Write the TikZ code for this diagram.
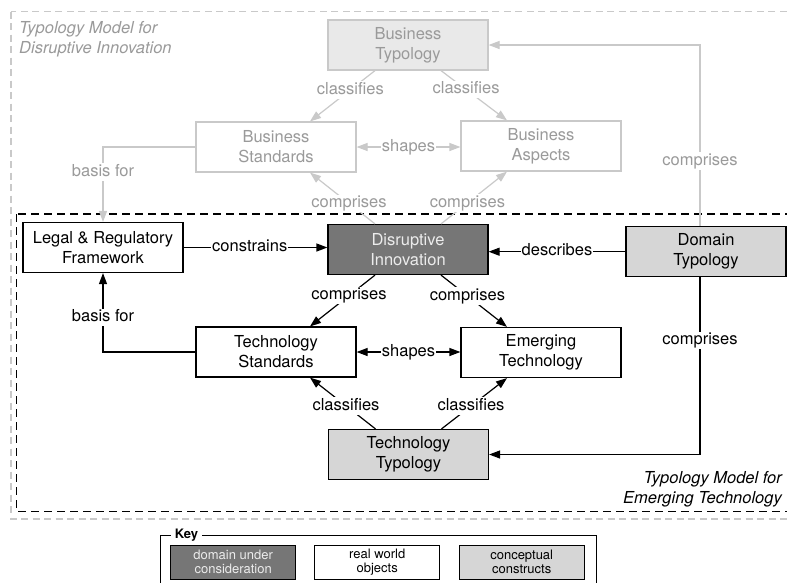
\documentclass[tikz,border=0pt]{standalone}
\usepackage{fontspec}
\setmainfont{TeX Gyre Heros}
\usetikzlibrary{arrows.meta}

\definecolor{ghostline}{HTML}{C9C9C9}
\definecolor{ghosttext}{HTML}{9A9A9A}
\definecolor{ghostfill}{HTML}{E9E9E9}
\definecolor{conceptfill}{HTML}{D6D6D6}
\definecolor{domainfill}{HTML}{767676}
\definecolor{domaintext}{HTML}{ECECEC}

\tikzset{
  mainfont/.style={font=\fontsize{16.5}{20}\selectfont},
  keyfont/.style={font=\fontsize{13}{14.5}\selectfont},
  box/.style={mainfont, draw=black, line width=1.2pt, minimum width=160pt,
    minimum height=50pt, align=center, inner sep=0pt, fill=white},
  realbox/.style={box},
  conceptbox/.style={box, fill=conceptfill},
  domainbox/.style={box, fill=domainfill, text=domaintext},
  ghostbox/.style={box, draw=ghostline, text=ghosttext},
  ghostconcept/.style={ghostbox, fill=ghostfill},
  link/.style={line width=1.2pt, >={Triangle[length=11pt,width=8pt]}, ->},
  ghostlink/.style={link, draw=ghostline},
  both/.style={<->},
  lbl/.style={mainfont, fill=white, inner sep=1pt, text height=12pt, text depth=3.5pt},
  ghostlbl/.style={lbl, text=ghosttext},
  frametitle/.style={font=\fontsize{16.5}{20}\selectfont\itshape, inner sep=0pt},
  keybox/.style={keyfont, draw=black, line width=1pt, minimum width=125pt,
    minimum height=34pt, align=center, inner sep=0pt, fill=white},
}

\begin{document}
\begin{tikzpicture}[x=1pt,y=-1pt]
\clip (0,0) rectangle (787,582);
\fill[white] (0,0) rectangle (787,582);

% model frames
\draw[ghostline, line width=1.2pt, dash pattern=on 7pt off 4.5pt] (11,11.7) rectangle (800,519);
\draw[black, line width=1.3pt, dash pattern=on 8pt off 5pt] (16.7,214) rectangle (796,511.7);

% frame titles (base anchor sits on the last line)
\node[frametitle, text=ghosttext, anchor=base west, align=left] (titleDI) at (19,53)
  {Typology Model for\\Disruptive Innovation};
\node[frametitle, anchor=base east, align=right] (titleET) at (782,503)
  {Typology Model for\\Emerging Technology};

% business layer
\node[ghostconcept] (BT) at (408,45) {Business\\Typology};
\node[ghostbox] (BS) at (276,147) {Business\\Standards};
\node[ghostbox] (BA) at (541,146) {Business\\Aspects};

% technology layer
\node[realbox] (LR) at (103,247.5) {Legal \& Regulatory\\Framework};
\node[domainbox] (DI) at (408,249.5) {Disruptive\\Innovation};
\node[conceptbox] (DT) at (706,251.7) {Domain\\Typology};
\node[realbox] (TS) at (276,352) {Technology\\Standards};
\node[realbox] (ET) at (541,352.5) {Emerging\\Technology};
\node[conceptbox] (TT) at (408.5,454.5) {Technology\\Typology};

% business relations
\draw[ghostlink] ([xshift=-33pt]BT.south) -- node[ghostlbl, pos=0.38] {classifies} ([xshift=34pt]BS.north);
\draw[ghostlink] ([xshift=33pt]BT.south) -- node[ghostlbl, pos=0.38] {classifies} ([xshift=-34pt]BA.north);
\draw[ghostlink, both] (BS.east) -- node[ghostlbl] {shapes} (BS.east -| BA.west);
\draw[ghostlink] ([xshift=-33pt]DI.north) -- node[ghostlbl, pos=0.4] {comprises} ([xshift=34pt]BS.south);
\draw[ghostlink] ([xshift=33pt]DI.north) -- node[ghostlbl, pos=0.4] {comprises} ([xshift=-34pt]BA.south);
\draw[ghostlink] (BS.west) -| node[ghostlbl, pos=0.667] {basis for} (LR.north);
\draw[ghostlink] ([xshift=-6pt]DT.north) |- node[ghostlbl, pos=0.18] {comprises} (BT.east);

% technology relations
\draw[link] (LR.east) -- node[lbl, pos=0.46] {constrains} (LR.east -| DI.west);
\draw[link] (DT.west) -- node[lbl] {describes} (DT.west -| DI.east);
\draw[link] ([xshift=-33pt]DI.south) -- node[lbl, pos=0.4] {comprises} ([xshift=34pt]TS.north);
\draw[link] ([xshift=33pt]DI.south) -- node[lbl, pos=0.4] {comprises} ([xshift=-34pt]ET.north);
\draw[link, both] (TS.east) -- node[lbl] {shapes} (TS.east -| ET.west);
\draw[link] (TS.west) -| node[lbl, pos=0.72] {basis for} (LR.south);
\draw[link] ([xshift=-33pt]TT.north) -- node[lbl, pos=0.45] {classifies} ([xshift=34pt]TS.south);
\draw[link] ([xshift=33pt]TT.north) -- node[lbl, pos=0.45] {classifies} ([xshift=-34pt]ET.south);
\draw[link] ([xshift=-6pt]DT.south) |- node[lbl, pos=0.178] {comprises} (TT.east);

% key
\coordinate (keyNW) at (160,535);
\coordinate (keyNE) at (596,535);
\draw[line width=1pt] ([yshift=-60pt]keyNW) -- (keyNW) -- (keyNE) -- ([yshift=-60pt]keyNE);
\node[keyfont, font=\fontsize{13}{14.5}\selectfont\bfseries, fill=white, inner sep=4pt] (keytitle) at (186.5,535) {Key};
\node[keybox, fill=domainfill, text=domaintext] (keyDomain) at (233.2,562) {domain under\\consideration};
\node[keybox] (keyReal) at (377.2,562) {real world\\objects};
\node[keybox, fill=conceptfill] (keyConcept) at (521.7,562) {conceptual\\constructs};
\end{tikzpicture}
\end{document}
